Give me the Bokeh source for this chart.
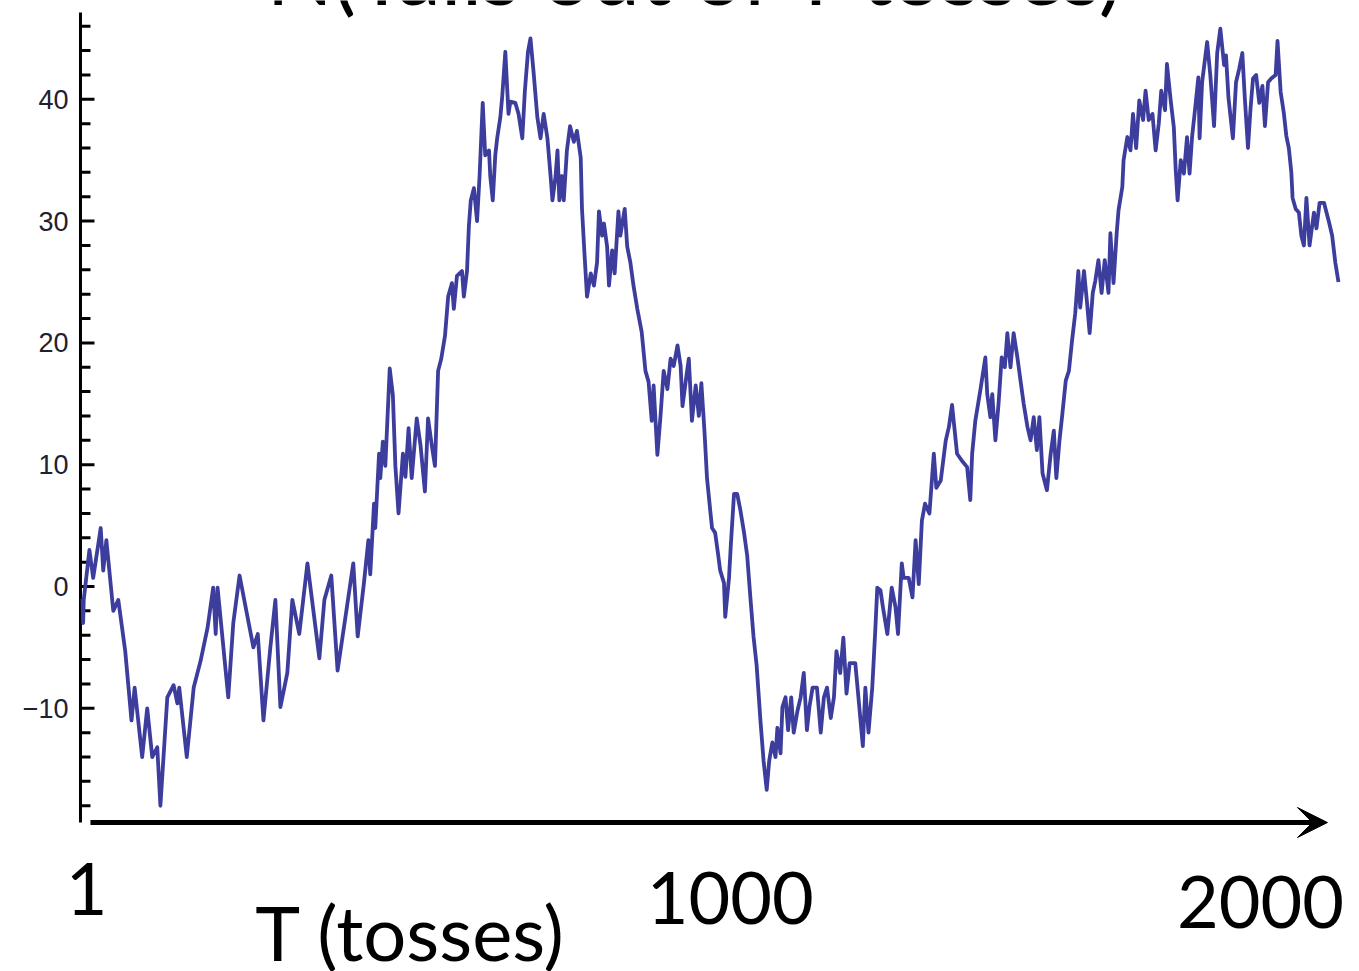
from bokeh.plotting import figure
from bokeh.models import Range1d, Arrow, VeeHead, ColumnDataSource
from bokeh.core.properties import value
from bokeh.embed import file_html
from bokeh.resources import INLINE

# ---- data ----
toss = [1, 2, 3, 12, 18, 30, 34, 39, 50, 58, 69, 79, 84, 96, 104, 112, 120, 125, 136, 146,
        152, 155, 167, 178, 189, 200, 209, 213, 216, 233, 241, 251, 273, 280, 289, 300, 308,
        316, 327, 335, 346, 359, 378, 386, 397, 407, 421, 432, 439, 449, 456, 459, 465, 467,
        473, 475, 479, 483, 490, 495, 499, 504, 511, 515, 520, 525, 533, 539, 546, 551, 558,
        562, 567, 572, 578, 583, 589, 592, 597, 605, 608, 613, 616, 619, 624, 629, 633, 638,
        642, 648, 650, 654, 658, 661, 666, 669, 674, 679, 682, 690, 695, 701, 705, 710, 714,
        719, 725, 730, 735, 741, 746, 749, 754, 757, 760, 764, 767, 772, 777, 783, 788, 794,
        796, 800, 804, 810, 815, 820, 823, 828, 831, 836, 839, 844, 848, 854, 857, 864, 868,
        873, 878, 884, 891, 897, 902, 907, 910, 916, 921, 926, 932, 937, 942, 948, 953, 956,
        962, 966, 971, 977, 982, 986, 991, 995, 1000, 1003, 1008, 1013, 1016, 1022, 1024,
        1030, 1033, 1038, 1043, 1048, 1054, 1059, 1064, 1069, 1074, 1080, 1085, 1090, 1094,
        1099, 1104, 1107, 1112, 1115, 1120, 1124, 1129, 1133, 1139, 1144, 1149, 1154, 1158,
        1163, 1170, 1176, 1181, 1186, 1192, 1197, 1201, 1207, 1212, 1217, 1222, 1231, 1236,
        1243, 1247, 1252, 1258, 1263, 1266, 1271, 1275, 1282, 1289, 1295, 1299, 1305, 1308,
        1316, 1322, 1327, 1332, 1337, 1342, 1349, 1356, 1360, 1367, 1375, 1380, 1385, 1393,
        1401, 1409, 1414, 1417, 1422, 1430, 1438, 1441, 1446, 1449, 1454, 1459, 1464, 1469,
        1473, 1478, 1483, 1489, 1494, 1499, 1505, 1510, 1515, 1520, 1524, 1529, 1536, 1542,
        1547, 1551, 1556, 1560, 1566, 1571, 1576, 1581, 1586, 1589, 1595, 1600, 1604, 1609,
        1613, 1618, 1623, 1628, 1634, 1637, 1642, 1647, 1650, 1656, 1658, 1664, 1669, 1673,
        1678, 1683, 1689, 1693, 1698, 1704, 1709, 1714, 1718, 1724, 1727, 1733, 1738, 1741,
        1744, 1749, 1754, 1759, 1763, 1767, 1771, 1777, 1779, 1783, 1791, 1796, 1802, 1807,
        1812, 1818, 1821, 1825, 1832, 1837, 1842, 1847, 1851, 1856, 1860, 1864, 1869, 1874,
        1879, 1883, 1888, 1893, 1900, 1903, 1908, 1913, 1917, 1921, 1925, 1927, 1932, 1937,
        1941, 1945, 1949, 1954, 1961, 1965, 1970, 1977, 1985, 1990, 1995, 2000]

excess_tails = [-1.0, -3.0, -1.1, 3.0, 0.7, 4.8, 1.3, 3.8, -2.0, -1.1, -5.3, -11.0, -8.3, -14.0,
                -10.0, -14.0, -13.2, -18.0, -9.1, -8.1, -9.6, -8.3, -14.0, -8.3, -6.1, -3.4, -0.1,
                -3.9, -0.1, -9.1, -3.0, 0.9, -5.0, -3.9, -11.0, -5.0, -1.1, -9.9, -7.1, -1.1, -3.9,
                1.9, -5.9, -1.1, 0.9, -6.9, -2.0, 1.9, -4.1, 0.3, 3.8, 1.0, 6.8, 4.8, 10.9, 8.9,
                11.9, 9.9, 17.9, 15.7, 9.9, 6.0, 10.9, 9.0, 13.0, 8.9, 13.8, 11.6, 7.8, 13.8, 11.2,
                9.9, 17.7, 18.7, 20.6, 23.8, 24.9, 22.8, 25.5, 25.9, 23.8, 25.9, 29.6, 31.7, 32.7,
                30.0, 33.7, 39.7, 35.4, 35.8, 33.7, 31.7, 35.4, 36.8, 38.5, 40.2, 43.9, 38.8, 39.8,
                39.7, 38.8, 36.8, 40.6, 43.9, 45.0, 42.2, 38.5, 36.8, 38.8, 36.8, 33.7, 31.7, 33.7,
                35.8, 31.7, 33.7, 31.7, 35.8, 37.8, 36.5, 37.4, 35.2, 31.0, 27.3, 23.8, 25.7, 24.7,
                26.6, 30.8, 28.8, 29.8, 27.9, 24.7, 27.6, 25.7, 30.8, 28.8, 31.0, 27.9, 26.6, 24.7,
                22.8, 20.9, 17.7, 16.8, 13.6, 16.5, 10.8, 14.0, 17.7, 16.2, 18.7, 18.1, 19.8, 18.1,
                14.8, 17.2, 18.7, 13.6, 16.5, 14.0, 16.7, 12.7, 8.9, 6.3, 4.8, 4.4, 2.5, 1.3, 0.3,
                -2.5, 0.7, 3.5, 7.6, 7.6, 6.3, 4.4, 2.5, -0.9, -4.1, -6.5, -11.0, -14.3, -16.7,
                -14.3, -12.8, -14.0, -11.6, -13.7, -9.9, -9.1, -11.8, -9.1, -12.0, -10.2, -9.1,
                -7.1, -11.8, -9.9, -8.3, -8.3, -12.0, -9.1, -8.3, -10.8, -9.1, -5.3, -7.1, -4.2,
                -8.8, -6.3, -6.3, -9.1, -13.1, -8.3, -12.0, -8.3, -3.4, -0.1, -0.3, -1.7, -3.9,
                -0.1, -1.7, -3.9, 1.9, 0.7, 0.7, -0.9, 3.8, 0.2, 5.4, 6.8, 6.0, 10.9, 8.1, 8.7,
                12.0, 13.1, 14.9, 10.9, 10.3, 9.8, 7.1, 10.9, 13.6, 16.1, 18.8, 15.8, 13.9, 15.8,
                12.0, 15.0, 18.8, 18.0, 20.8, 18.0, 20.8, 18.8, 16.9, 15.0, 13.1, 12.0, 13.9, 11.2,
                13.9, 9.3, 7.9, 10.9, 12.8, 8.9, 12.0, 13.9, 16.9, 17.7, 20.2, 22.4, 25.9, 22.9,
                25.9, 23.2, 20.8, 24.1, 25.1, 26.8, 24.1, 26.8, 24.1, 29.0, 24.9, 29.0, 30.9, 32.8,
                35.0, 36.9, 35.8, 38.8, 36.0, 39.9, 38.3, 40.7, 38.3, 38.8, 35.8, 38.0, 40.7, 39.1,
                42.9, 39.9, 37.7, 34.2, 31.7, 35.0, 33.9, 36.9, 33.9, 36.9, 38.8, 41.8, 36.8, 41.4,
                44.7, 42.0, 37.8, 43.8, 45.8, 42.8, 43.6, 40.1, 36.8, 41.4, 42.5, 43.8, 40.1, 36.0,
                39.2, 41.7, 42.0, 39.7, 41.1, 37.8, 41.4, 41.7, 42.0, 44.8, 40.6, 38.9, 37.0, 36.0,
                34.0, 31.9, 31.0, 30.7, 28.8, 28.0, 31.9, 28.0, 30.7, 29.4, 31.5, 31.5, 29.9, 28.8,
                26.6, 25.0]

y_major_ticks = [-10, 0, 10, 20, 30, 40]
y_major_labels = ["\u221210", "0", "10", "20", "30", "40"]
y_minor_ticks = [-18, -16, -14, -12, -8, -6, -4, -2, 2, 4, 6, 8, 12, 14, 16, 18, 22, 24, 26, 28,
                 32, 34, 36, 38, 42, 44, 46]

title_text = "N(Tails out of T tosses)"
x_tick_labels = ["1", "1000", "2000"]
x_axis_label = "T (tosses)"

# ---- layout constants (data space) ----
x_lo, x_hi = -129.5, 2033.5
y_lo, y_hi = -31.61, 48.11
axis_x = -2.2                 # position of the vertical axis
axis_y_lo, axis_y_hi = -19.38, 47.13

p = figure(width=1359, height=971, output_backend="svg", toolbar_location=None,
           x_range=Range1d(x_lo, x_hi), y_range=Range1d(y_lo, y_hi),
           x_axis_location=None, y_axis_location=None, min_border=0)
p.grid.visible = False
p.outline_line_color = None
p.background_fill_color = "white"
p.border_fill_color = "white"

# vertical axis: line, ticks pointing inward, labels
p.segment(x0=[axis_x], y0=[axis_y_lo], x1=[axis_x], y1=[axis_y_hi],
          line_width=3, line_color="black")
p.ray(x=[axis_x] * len(y_major_ticks), y=y_major_ticks, length=14, angle=0,
      length_units="screen", line_width=3, line_color="black")
p.ray(x=[axis_x] * len(y_minor_ticks), y=y_minor_ticks, length=10, angle=0,
      length_units="screen", line_width=3, line_color="black")
p.text(x=[axis_x] * len(y_major_ticks), y=y_major_ticks, text=y_major_labels,
       x_offset=-12, text_align="right", text_baseline="middle",
       text_font=value("Liberation Sans"), text_font_size="27px", text_color="#202030")

# the random walk
src = ColumnDataSource(dict(t=toss, n=excess_tails))
p.line("t", "n", source=src, line_width=3.8, line_color="#3d3d9e", line_join="round")

# horizontal axis drawn as an arrow
p.add_layout(Arrow(end=VeeHead(size=30, fill_color="black", line_color="black", line_width=1),
                   x_start=13.7, y_start=axis_y_lo, x_end=1982.5, y_end=axis_y_lo,
                   line_width=5, line_color="black"))

font = value("Lato")
# title (mostly above the top edge, as in the reference)
p.text(x=[980], y=[50.5], text=[title_text], text_font=font, text_font_size="87px",
       text_align="center", text_baseline="middle", text_color="black")
# x tick labels and axis label
p.text(x=[7.4, 1032, 1876], y=[-24.84, -25.57, -25.9], text=x_tick_labels, text_font=font,
       text_font_size="72px", text_align="center", text_baseline="middle", text_color="black")
p.text(x=[276], y=[-28.3], text=[x_axis_label], text_font=font, text_font_size="76px",
       text_align="left", text_baseline="middle", text_color="black")

open("out.html", "w").write(file_html(p, INLINE))
